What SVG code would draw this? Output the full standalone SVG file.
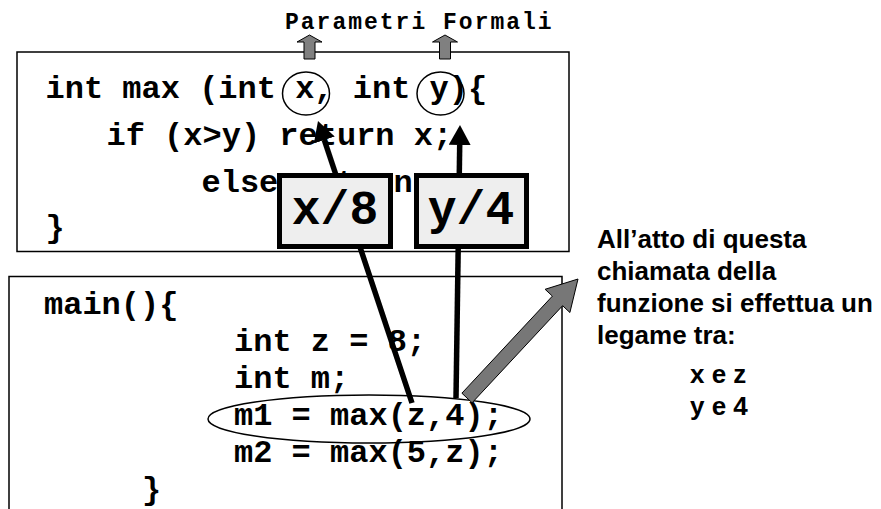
<svg xmlns="http://www.w3.org/2000/svg" width="881" height="509" viewBox="0 0 881 509">
<style>
.code{font-family:"Courier New","Liberation Mono",monospace;font-weight:bold;font-size:32px;fill:#000;}
.lbl{font-family:"Courier New","Liberation Mono",monospace;font-weight:bold;font-size:23px;letter-spacing:2px;fill:#000;}
.big{font-family:"Courier New","Liberation Mono",monospace;font-weight:bold;font-size:48px;fill:#000;text-anchor:middle;}
.note{font-family:"Liberation Sans",Arial,sans-serif;font-weight:bold;font-size:26px;fill:#000;}
.frame{fill:#fff;stroke:#000;stroke-width:1.5;}
.ring{fill:none;stroke:#000;stroke-width:1.5;}
.val{fill:#eeeeee;stroke:#000;stroke-width:5;}
.up{fill:#808080;stroke:#000;stroke-width:1;}
.wire{stroke:#000;stroke-width:5.5;fill:none;}
.grey{fill:#777777;stroke:#000;stroke-width:1;}
</style>
<defs>
<marker id="head" viewBox="0 0 20 22" refX="0" refY="11" markerWidth="20" markerHeight="22" markerUnits="userSpaceOnUse" orient="auto">
<path d="M0,0 L20,11 L0,22 z" fill="#000"/>
</marker>
</defs>
<rect width="881" height="509" fill="#fff"/>

<g id="funzione-max">
<rect class="frame" x="17" y="52" width="552" height="199.5"/>
<text class="code" x="45.5" y="98">int max (int x, int y){</text>
<text class="code" x="106.5" y="145">if (x&gt;y) return x;</text>
<text class="code" x="201.5" y="192">else return y;</text>
<text class="code" x="45.5" y="237">}</text>
<ellipse class="ring" cx="306" cy="93.5" rx="23.5" ry="21.5"/>
<ellipse class="ring" cx="440.5" cy="93.5" rx="23.5" ry="21.5"/>
</g>

<g id="parametri-formali">
<text class="lbl" x="285" y="29">Parametri Formali</text>
<path class="up" d="M309.5,35 L322,42 L315,42 L315,59 L304,59 L304,42 L297,42 Z"/>
<path class="up" d="M445,35 L457.5,42 L450.5,42 L450.5,59 L439.5,59 L439.5,42 L432.5,42 Z"/>
</g>

<g id="main">
<rect class="frame" x="9" y="276.5" width="553" height="260"/>
<text class="code" x="44" y="314">main(){</text>
<text class="code" x="234" y="351">int z = 8;</text>
<text class="code" x="234" y="388">int m;</text>
<text class="code" x="234" y="425">m1 = max(z,4);</text>
<text class="code" x="234" y="462">m2 = max(5,z);</text>
<text class="code" x="142" y="499">}</text>
<ellipse class="ring" cx="369" cy="419" rx="161" ry="24"/>
</g>

<g id="connectors">
<line class="wire" x1="412" y1="403" x2="324.3" y2="140" marker-end="url(#head)"/>
<line class="wire" x1="456" y1="398" x2="459.7" y2="145" marker-end="url(#head)"/>
<polygon class="grey" points="461.9,393.2 552.4,296.1 545.1,289.3 578,279 569.9,312.5 562.6,305.7 472.1,402.8"/>
</g>

<g id="legame-x">
<rect class="val" x="279.5" y="175.5" width="111" height="71"/>
<text class="big" x="335" y="224">x/8</text>
</g>

<g id="legame-y">
<rect class="val" x="416.5" y="175.5" width="110" height="71"/>
<text class="big" x="471" y="224">y/4</text>
</g>

<g id="nota">
<text class="note" x="597" y="248">All’atto di questa</text>
<text class="note" x="597" y="280">chiamata della</text>
<text class="note" x="597" y="312">funzione si effettua un</text>
<text class="note" x="597" y="344">legame tra:</text>
<text class="note" x="690" y="383">x e z</text>
<text class="note" x="690" y="415">y e 4</text>
</g>
</svg>
